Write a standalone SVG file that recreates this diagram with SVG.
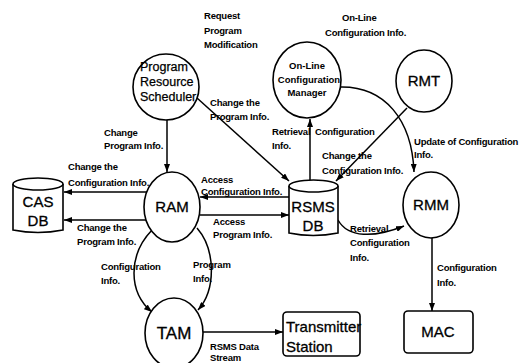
<svg xmlns="http://www.w3.org/2000/svg" width="523" height="363" viewBox="0 0 523 363">
  <defs>
    <marker id="arrow" markerWidth="8" markerHeight="6" refX="8" refY="3" orient="auto" markerUnits="userSpaceOnUse">
      <path d="M0,0 L8,3 L0,6 z" fill="#000"/>
    </marker>
    <style>
      .node { fill: #fff; stroke: #000; stroke-width: 1.6; }
      .edge { fill: none; stroke: #000; stroke-width: 1.5; marker-end: url(#arrow); }
      .lbl { font-family: "Liberation Sans", Arial, sans-serif; font-size: 9.5px; font-weight: bold; fill: #000; letter-spacing: -0.2px; }
      .big { font-family: "Liberation Sans", Arial, sans-serif; font-size: 15px; fill: #000; stroke: #000; stroke-width: 0.3; text-anchor: middle; }
      .mid { font-family: "Liberation Sans", Arial, sans-serif; font-size: 12.5px; fill: #000; stroke: #000; stroke-width: 0.25; }
      .sml { font-family: "Liberation Sans", Arial, sans-serif; font-size: 9.5px; font-weight: bold; fill: #000; text-anchor: middle; }
    </style>
  </defs>
  <rect width="523" height="363" fill="#fff"/>

  <!-- free-standing annotations -->
  <g id="annotations">
    <text class="lbl" x="204" y="19">Request</text>
    <text class="lbl" x="204" y="34">Program</text>
    <text class="lbl" x="204" y="48">Modification</text>
    <text class="lbl" x="342" y="21">On-Line</text>
    <text class="lbl" x="325" y="36">Configuration Info.</text>
  </g>

  <!-- connectors -->
  <g id="connectors">
    <path class="edge" d="M167,120 L167,172"/>
    <path class="edge" d="M197,98 L289,181"/>
    <path class="edge" d="M310,180 L310,119"/>
    <path class="edge" d="M407,108 L336,181"/>
    <path class="edge" d="M340,87 C385,86 412,120 414,172"/>
    <path class="edge" d="M147,192 L64,192"/>
    <path class="edge" d="M146,220 L64,220"/>
    <path class="edge" d="M289,197 L200,197"/>
    <path class="edge" d="M200,215 L289,215"/>
    <path class="edge" d="M152,230 C128,255 128,292 152,312"/>
    <path class="edge" d="M197,228 C216,250 216,290 198,310"/>
    <path class="edge" d="M338,220 C348,238 374,238 404,226"/>
    <path class="edge" d="M432,238 L432,311"/>
    <path class="edge" d="M203,332 L283,332"/>

    <text class="lbl" x="104" y="136">Change</text>
    <text class="lbl" x="104" y="149">Program Info.</text>
    <text class="lbl" x="210" y="106">Change the</text>
    <text class="lbl" x="210" y="120">Program Info.</text>
    <text class="lbl" x="272" y="135">Retrieval</text>
    <text class="lbl" x="315" y="135">Configuration</text>
    <text class="lbl" x="272" y="149">Info.</text>
    <text class="lbl" x="322" y="159">Change the</text>
    <text class="lbl" x="322" y="174">Configuration Info.</text>
    <text class="lbl" x="414" y="145">Update of Configuration</text>
    <text class="lbl" x="414" y="158">Info.</text>
    <text class="lbl" x="68" y="170">Change the</text>
    <text class="lbl" x="68" y="186">Configuration Info.</text>
    <text class="lbl" x="77" y="231">Change the</text>
    <text class="lbl" x="77" y="245">Program Info.</text>
    <text class="lbl" x="201" y="183">Access</text>
    <text class="lbl" x="201" y="195">Configuration Info.</text>
    <text class="lbl" x="213" y="225">Access</text>
    <text class="lbl" x="213" y="238">Program Info.</text>
    <text class="lbl" x="101" y="270">Configuration</text>
    <text class="lbl" x="101" y="284">Info.</text>
    <text class="lbl" x="193" y="268">Program</text>
    <text class="lbl" x="193" y="282">Info.</text>
    <text class="lbl" x="350" y="232">Retrieval</text>
    <text class="lbl" x="350" y="246">Configuration</text>
    <text class="lbl" x="350" y="261">Info.</text>
    <text class="lbl" x="437" y="271">Configuration</text>
    <text class="lbl" x="437" y="286">Info.</text>
    <text class="lbl" x="210" y="350">RSMS Data</text>
    <text class="lbl" x="210" y="361">Stream</text>
  </g>

  <!-- processes -->
  <g id="prs">
    <ellipse class="node" cx="166" cy="87" rx="33" ry="33"/>
    <text class="mid" x="140" y="71">Program</text>
    <text class="mid" x="140" y="86">Resource</text>
    <text class="mid" x="140" y="101">Scheduler</text>
  </g>
  <g id="ocm">
    <ellipse class="node" cx="307" cy="80" rx="34" ry="38"/>
    <text class="sml" x="307" y="69">On-Line</text>
    <text class="sml" x="309" y="83">Configuration</text>
    <text class="sml" x="307" y="96">Manager</text>
  </g>
  <g id="rmt">
    <ellipse class="node" cx="424" cy="81" rx="28" ry="31"/>
    <text class="big" x="424" y="86">RMT</text>
  </g>
  <g id="ram">
    <ellipse class="node" cx="172" cy="207" rx="28" ry="35"/>
    <text class="big" x="172" y="212">RAM</text>
  </g>
  <g id="rmm">
    <ellipse class="node" cx="431" cy="205" rx="28" ry="33"/>
    <text class="big" x="431" y="210">RMM</text>
  </g>
  <g id="tam">
    <ellipse class="node" cx="174" cy="333" rx="29" ry="35"/>
    <text class="big" x="174" y="339" style="font-size:17px">TAM</text>
  </g>

  <!-- data stores -->
  <g id="casdb">
    <path class="node" d="M13,184 L13,230 Q38,235 63,230 L63,184"/>
    <ellipse class="node" cx="38" cy="184" rx="25" ry="6"/>
    <text class="big" x="38" y="207">CAS</text>
    <text class="big" x="38" y="226">DB</text>
  </g>
  <g id="rsmsdb">
    <path class="node" d="M289,186 L289,233 Q313,238 338,233 L338,186"/>
    <ellipse class="node" cx="313.5" cy="186" rx="24.5" ry="6"/>
    <text class="big" x="313" y="212">RSMS</text>
    <text class="big" x="313" y="231">DB</text>
  </g>

  <!-- terminals -->
  <g id="transmitter">
    <rect class="node" x="283" y="312" width="77" height="44" rx="4"/>
    <text class="big" x="286" y="332" style="text-anchor:start">Transmitter</text>
    <text class="big" x="286" y="352" style="text-anchor:start">Station</text>
  </g>
  <g id="mac">
    <rect class="node" x="404" y="311" width="69" height="42" rx="4"/>
    <text class="big" x="438" y="337">MAC</text>
  </g>
</svg>
